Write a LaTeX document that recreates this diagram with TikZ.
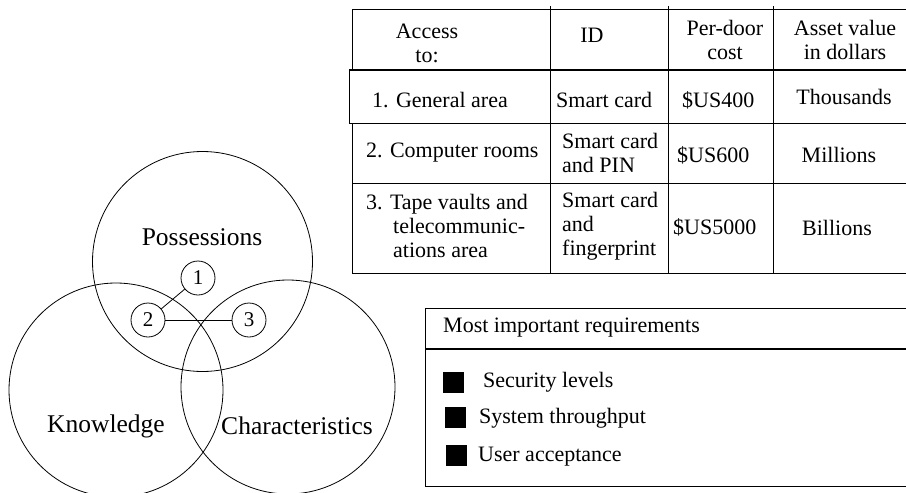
\documentclass[tikz,border=0pt]{standalone}
\usepackage{fontspec}
\setmainfont{Liberation Serif}
\usepackage{xcolor}
\usepackage{tikz}
\definecolor{ink}{HTML}{000000}
\definecolor{paper}{HTML}{FFFFFF}
\tikzset{
  tabline/.style={draw=ink, line width=0.8pt},
  heavyline/.style={draw=ink, line width=1.4pt},
  setcircle/.style={draw=ink, line width=0.8pt},
  numnode/.style={circle, draw=ink, line width=0.8pt, fill=paper, minimum size=34pt, inner sep=0pt, font=\fontsize{21}{21}\selectfont},
  setlab/.style={text=ink, inner sep=0pt, font=\fontsize{25.5}{28}\selectfont},
  tabtxt/.style={text=ink, inner sep=0pt, font=\fontsize{22}{24}\selectfont},
  legtxt/.style={text=ink, inner sep=0pt, anchor=west, font=\fontsize{22}{24}\selectfont},
  bulletsq/.style={fill=ink, draw=none, minimum size=21pt, inner sep=0pt}
}
\begin{document}
\begin{tikzpicture}[x=1pt,y=-1pt]
  \useasboundingbox (0,0) rectangle (906,493);
  \fill[paper] (0,0) rectangle (906,493);
  \clip (0,0) rectangle (906,493);

  % table rules
  \draw[tabline] (352,9) -- (906,9);
  \draw[heavyline] (349,70) -- (906,70);
  \draw[tabline] (349,123) -- (906,123);
  \draw[tabline] (352,183) -- (906,183);
  \draw[tabline] (352,273) -- (906,273);
  \draw[tabline] (352,9) -- (352,70);
  \draw[tabline] (349,70) -- (349,123);
  \draw[tabline] (352,123) -- (352,273);
  \foreach \cx in {550,668,773}
    \draw[tabline] (\cx,6) -- (\cx,273);

  % table header
  \node[tabtxt, align=center] (hAccess) at (427,43) {Access\\to:};
  \node[tabtxt] (hID) at (592,35) {ID};
  \node[tabtxt, align=center] (hCost) at (725,40) {Per-door\\cost};
  \node[tabtxt, align=center] (hValue) at (845,40) {Asset value\\in dollars};

  % table rows
  \node[tabtxt, anchor=west] (r1Area) at (372,100) {1. General area};
  \node[tabtxt, anchor=west] (r1ID) at (556,100) {Smart card};
  \node[tabtxt, anchor=west] (r1Cost) at (682,100) {\$US400};
  \node[tabtxt] (r1Value) at (844,97) {Thousands};

  \node[tabtxt, anchor=west] (r2Area) at (366,153) {2. Computer rooms};
  \node[tabtxt, anchor=west, align=left] (r2ID) at (562,153) {Smart card\\and PIN};
  \node[tabtxt, anchor=west] (r2Cost) at (677,155) {\$US600};
  \node[tabtxt] (r2Value) at (839,155) {Millions};

  \node[tabtxt, anchor=west, align=left] (r3Area) at (366,226)
    {3. Tape vaults and\\\hspace*{27pt}telecommunic-\\\hspace*{27pt}ations area};
  \node[tabtxt, anchor=west, align=left] (r3ID) at (562,226) {Smart card\\and\\fingerprint};
  \node[tabtxt, anchor=west] (r3Cost) at (673,227) {\$US5000};
  \node[tabtxt] (r3Value) at (837,228) {Billions};

  % requirements box
  \draw[tabline] (425,308) rectangle (910,486);
  \draw[heavyline] (425,349) -- (906,349);
  \node[legtxt] (reqHead) at (443,328) {Most important requirements};
  \node[bulletsq] (sq1) at (453.5,382.5) {};
  \node[bulletsq] (sq2) at (455,417.5) {};
  \node[bulletsq] (sq3) at (456,455) {};
  \node[legtxt] (req1) at (483,382) {Security levels};
  \node[legtxt] (req2) at (479,418) {System throughput};
  \node[legtxt] (req3) at (478,457) {User acceptance};

  % sets
  \coordinate (P) at (202.5,261.5);
  \coordinate (K) at (116,390);
  \coordinate (C) at (288,387);
  \draw[setcircle] (P) circle (110pt);
  \draw[setcircle] (K) circle (107pt);
  \draw[setcircle] (C) circle (107pt);
  \node[setlab] (possLab) at (202,237) {Possessions};
  \node[setlab] (knowLab) at (106,426) {Knowledge};
  \node[setlab] (charLab) at (297,426) {Characteristics};

  \node[numnode] (n1) at (198,278) {1};
  \node[numnode] (n2) at (148,320) {2};
  \node[numnode] (n3) at (249,320) {3};
  \draw[tabline] (n2) -- (n1);
  \draw[tabline] (n2) -- (n3);
\end{tikzpicture}
\end{document}
